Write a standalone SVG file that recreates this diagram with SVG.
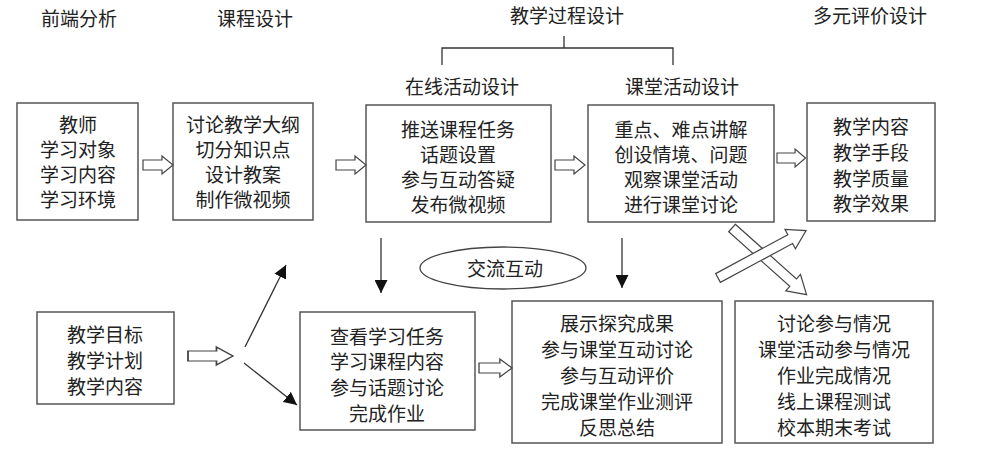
<svg xmlns="http://www.w3.org/2000/svg" width="1000" height="472" viewBox="0 0 1000 472">
<style>
text{font-family:"Noto Sans CJK SC","Noto Sans CJK JP",sans-serif;font-size:19px;fill:#222;text-anchor:middle;dominant-baseline:central}
.box{fill:#fff;stroke:#555;stroke-width:1.5}
.hol{fill:#fff;stroke:#444;stroke-width:1.2;stroke-linejoin:miter}
.ln{fill:none;stroke:#333;stroke-width:1.3}
</style>
<defs>
<path id="ha" d="M0,-5 H19 V-9 L30,0 L19,9 V5 H0 Z"/>
<path id="hb" d="M0,-5 H82 V-11 L100,0 L82,11 V5 H0 Z"/>
<marker id="ar" viewBox="0 0 10 10" refX="10" refY="5" markerWidth="13" markerHeight="13" markerUnits="userSpaceOnUse" orient="auto"><path d="M0,0 L10,5 L0,10 Z" fill="#111"/></marker>
</defs>
<g id="headers">
<text x="79" y="17">前端分析</text>
<text x="255" y="17">课程设计</text>
<text x="567" y="14">教学过程设计</text>
<text x="870" y="14">多元评价设计</text>
<text x="462" y="85">在线活动设计</text>
<text x="682" y="85">课堂活动设计</text>
</g>
<g id="bracket" class="ln">
<path d="M564,36 V48 M442,65 V48 H673 V65"/>
</g>
<g id="n1"><rect class="box" x="17" y="103" width="121" height="117"/>
<text x="78" y="123">教师</text><text x="78" y="148">学习对象</text><text x="78" y="173">学习内容</text><text x="78" y="198">学习环境</text></g>
<g id="n2"><rect class="box" x="173" y="103" width="140" height="117"/>
<text x="243" y="123">讨论教学大纲</text><text x="243" y="148">切分知识点</text><text x="243" y="173">设计教案</text><text x="243" y="198">制作微视频</text></g>
<g id="n3"><rect class="box" x="366" y="105" width="185" height="117"/>
<text x="458" y="128">推送课程任务</text><text x="458" y="153">话题设置</text><text x="458" y="178">参与互动答疑</text><text x="458" y="203">发布微视频</text></g>
<g id="n4"><rect class="box" x="588" y="105" width="186" height="117"/>
<text x="681" y="128">重点、难点讲解</text><text x="681" y="153">创设情境、问题</text><text x="681" y="178">观察课堂活动</text><text x="681" y="203">进行课堂讨论</text></g>
<g id="n5"><rect class="box" x="807" y="103" width="128" height="118"/>
<text x="871" y="125">教学内容</text><text x="871" y="151">教学手段</text><text x="871" y="177">教学质量</text><text x="871" y="202">教学效果</text></g>
<g id="n6"><ellipse cx="503" cy="268" rx="83" ry="21" fill="#fff" stroke="#444" stroke-width="1.3"/>
<text x="505" y="267">交流互动</text></g>
<g id="n7"><rect class="box" x="37" y="312" width="137" height="92"/>
<text x="105" y="333">教学目标</text><text x="105" y="359">教学计划</text><text x="105" y="385">教学内容</text></g>
<g id="n8"><rect class="box" x="300" y="312" width="175" height="118"/>
<text x="387" y="335">查看学习任务</text><text x="387" y="360">学习课程内容</text><text x="387" y="386">参与话题讨论</text><text x="387" y="412">完成作业</text></g>
<g id="n9"><rect class="box" x="512" y="301" width="210" height="142"/>
<text x="617" y="322">展示探究成果</text><text x="617" y="348">参与课堂互动讨论</text><text x="617" y="374">参与互动评价</text><text x="617" y="400">完成课堂作业测评</text><text x="617" y="426">反思总结</text></g>
<g id="n10"><rect class="box" x="735" y="301" width="198" height="142"/>
<text x="834" y="322">讨论参与情况</text><text x="834" y="348">课堂活动参与情况</text><text x="834" y="374">作业完成情况</text><text x="834" y="400">线上课程测试</text><text x="834" y="426">校本期末考试</text></g>
<g id="connectors">
<use href="#ha" class="hol" transform="translate(143,165)"/>
<use href="#ha" class="hol" transform="translate(336,165)"/>
<use href="#ha" class="hol" transform="translate(555,165)"/>
<use href="#ha" class="hol" transform="translate(777,158) scale(0.95,1)"/>
<use href="#ha" class="hol" transform="translate(188,356) scale(1.5,1)"/>
<use href="#ha" class="hol" transform="translate(479,368) scale(1.1,1)"/>
<use href="#hb" class="hol" transform="translate(732,228) rotate(41.8)"/>
<use href="#hb" class="hol" transform="translate(718,278) rotate(-28.3)"/>
<path class="ln" d="M381,238 V293" marker-end="url(#ar)"/>
<path class="ln" d="M622,238 V288" marker-end="url(#ar)"/>
<path class="ln" d="M245,347 L286,265" marker-end="url(#ar)"/>
<path class="ln" d="M244,363 L297,405" marker-end="url(#ar)"/>
</g>
</svg>
